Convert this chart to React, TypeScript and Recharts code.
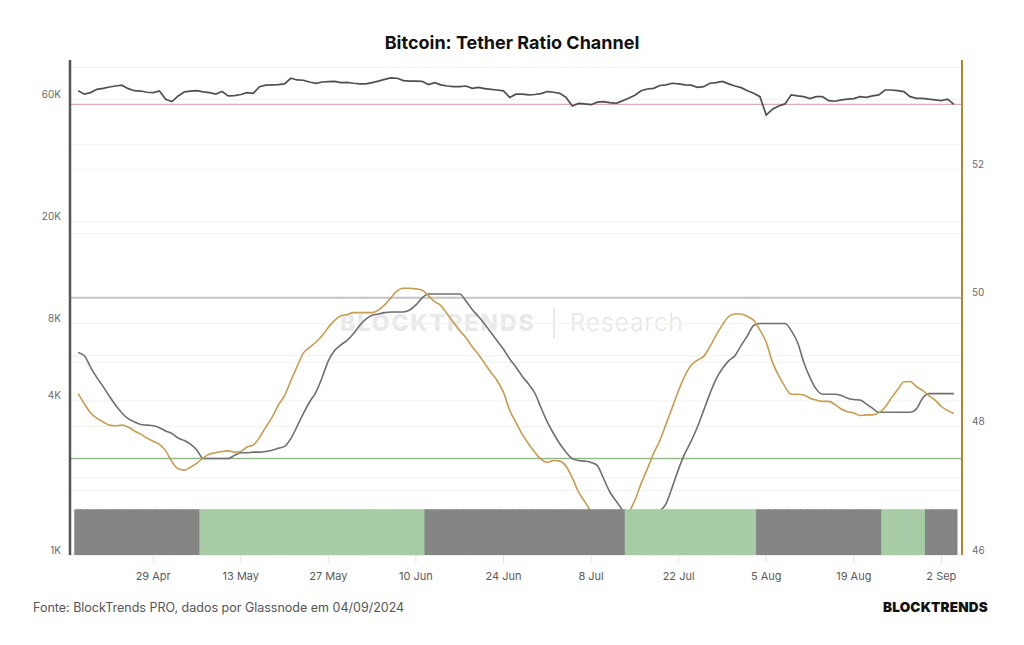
import React from 'react';
import { ComposedChart, Line, Bar, Cell, XAxis, YAxis, ReferenceLine } from 'recharts';

// ---------- categories ----------
const monthAbbr = ['Jan', 'Feb', 'Mar', 'Apr', 'May', 'Jun', 'Jul', 'Aug', 'Sep', 'Oct', 'Nov', 'Dec'];
const firstDayUTC = Date.UTC(2024, 3, 17); // 17 Apr 2024
const dayCount = 141; // 17 Apr .. 4 Sep 2024
const dates: string[] = Array.from({ length: dayCount }, (_, i) => {
  const d = new Date(firstDayUTC + i * 86400000);
  return `${d.getUTCDate()} ${monthAbbr[d.getUTCMonth()]}`;
});

const xTicks = ['29 Apr', '13 May', '27 May', '10 Jun', '24 Jun', '8 Jul', '22 Jul', '5 Aug', '19 Aug', '2 Sep'];

// ---------- BTC price (thousands USD, log axis) ----------
const priceK = [
  65.0, 63.1, 64.0, 65.9, 66.5, 67.3, 67.9, 68.4, 66.3, 65.1,
  64.9, 64.2, 64.0, 64.9, 60.3, 59.0, 62.1, 64.4, 64.8, 65.1,
  64.4, 64.0, 63.2, 64.6, 62.1, 62.3, 62.9, 64.0, 63.6, 67.5,
  68.4, 68.6, 68.8, 69.2, 72.8, 71.7, 71.5, 70.4, 69.6, 70.4,
  70.6, 70.8, 70.0, 70.2, 69.6, 69.2, 69.2, 70.0, 71.0, 72.1,
  73.0, 72.8, 71.3, 71.0, 71.0, 70.8, 68.8, 70.0, 68.6, 67.9,
  67.5, 67.5, 67.9, 66.5, 67.1, 66.3, 65.9, 65.5, 65.0, 61.3,
  63.1, 63.1, 62.7, 62.9, 63.4, 64.6, 64.2, 63.6, 61.3, 56.7,
  58.1, 57.8, 57.4, 58.7, 59.0, 58.5, 58.1, 59.4, 60.8, 62.5,
  65.1, 66.1, 66.5, 68.2, 68.6, 69.6, 69.2, 68.6, 68.4, 67.1,
  67.5, 69.6, 70.0, 70.8, 69.2, 67.9, 66.9, 65.1, 63.6, 61.7,
  52.3, 55.1, 56.7, 57.8, 62.7, 62.1, 61.7, 60.6, 61.7, 61.7,
  59.5, 59.2, 59.9, 60.3, 60.6, 61.7, 61.3, 62.1, 62.7, 65.5,
  65.5, 65.1, 64.6, 61.7, 60.8, 60.8, 60.3, 59.9, 59.5, 60.3,
  57.6,
];

// ---------- Tether ratio (gold) ----------
const ratioLine = [
  48.51, 48.35, 48.21, 48.13, 48.07, 48.02, 48.01, 48.02, 47.99, 47.93,
  47.88, 47.82, 47.77, 47.72, 47.62, 47.45, 47.34, 47.32, 47.37, 47.43,
  47.51, 47.57, 47.59, 47.61, 47.62, 47.60, 47.61, 47.68, 47.71, 47.83,
  47.99, 48.14, 48.33, 48.48, 48.71, 48.93, 49.14, 49.23, 49.31, 49.41,
  49.54, 49.65, 49.72, 49.74, 49.77, 49.77, 49.77, 49.77, 49.81, 49.89,
  50.00, 50.11, 50.15, 50.15, 50.14, 50.12, 50.03, 49.94, 49.88, 49.75,
  49.62, 49.49, 49.38, 49.24, 49.12, 48.98, 48.84, 48.71, 48.53, 48.25,
  48.06, 47.88, 47.73, 47.60, 47.49, 47.44, 47.47, 47.46, 47.38, 47.20,
  46.98, 46.83, 46.67, 46.50, 46.35, 46.25, 46.30, 46.45, 46.65, 46.85,
  47.11, 47.34, 47.58, 47.78, 48.04, 48.30, 48.56, 48.79, 48.95, 49.03,
  49.09, 49.24, 49.42, 49.58, 49.71, 49.75, 49.75, 49.71, 49.65, 49.50,
  49.31, 49.00, 48.79, 48.62, 48.50, 48.50, 48.49, 48.44, 48.41, 48.39,
  48.39, 48.34, 48.27, 48.23, 48.21, 48.17, 48.18, 48.18, 48.21, 48.30,
  48.44, 48.57, 48.69, 48.70, 48.62, 48.56, 48.48, 48.41, 48.31, 48.25,
  48.20,
];

// ---------- Channel line (gray) ----------
const channelLine = [
  49.15, 49.10, 48.92, 48.76, 48.62, 48.47, 48.33, 48.21, 48.12, 48.07,
  48.03, 48.02, 48.01, 47.98, 47.93, 47.89, 47.82, 47.78, 47.72, 47.63,
  47.50, 47.50, 47.50, 47.50, 47.50, 47.55, 47.59, 47.59, 47.60, 47.60,
  47.61, 47.63, 47.66, 47.69, 47.81, 48.00, 48.20, 48.38, 48.53, 48.76,
  49.02, 49.18, 49.27, 49.34, 49.44, 49.57, 49.67, 49.73, 49.75, 49.77,
  49.78, 49.78, 49.78, 49.81, 49.89, 50.00, 50.06, 50.06, 50.06, 50.06,
  50.06, 50.06, 49.95, 49.82, 49.71, 49.59, 49.46, 49.33, 49.20, 49.05,
  48.92, 48.78, 48.66, 48.52, 48.29, 48.07, 47.89, 47.73, 47.60, 47.50,
  47.47, 47.46, 47.44, 47.39, 47.19, 46.98, 46.84, 46.70, 46.50, 46.40,
  46.35, 46.40, 46.55, 46.68, 46.80, 47.06, 47.34, 47.58, 47.77, 47.99,
  48.25, 48.51, 48.74, 48.90, 49.02, 49.10, 49.26, 49.41, 49.57, 49.60,
  49.60, 49.60, 49.60, 49.60, 49.49, 49.31, 49.00, 48.76, 48.58, 48.50,
  48.50, 48.50, 48.48, 48.44, 48.42, 48.41, 48.35, 48.28, 48.22, 48.22,
  48.22, 48.22, 48.22, 48.22, 48.27, 48.44, 48.51, 48.51, 48.51, 48.51,
  48.51,
];

// ---------- regime runs (state, number of days) ----------
const regimeRuns: [string, number][] = [
  ['off', 20], ['on', 36], ['off', 32], ['on', 21], ['off', 20], ['on', 7], ['off', 5],
];

// ---------- axes / levels ----------
const priceTicks = [1, 4, 8, 20, 60];
const priceGrid = [2, 4, 6, 8, 20, 40, 60, 80];
const ratioTicks = [46, 48, 50, 52];
const ratioGrid = [47, 48, 49, 51, 52];
const upperLevel = 50;
const lowerLevel = 47.5;

const colors = {
  price: '#505050',
  ratio: '#c79d4f',
  channel: '#6f6f6f',
  on: '#a6cba5',
  off: '#858585',
  upper: '#c4c4c4',
  lower: '#93b98c',
  current: '#e4a9b9',
  grid: '#f2f2f2',
};

const regimes: string[] = regimeRuns.flatMap(([s, n]) => Array.from({ length: n }, () => s));

const rows = dates.map((d, i) => ({
  date: d,
  price: priceK[i],
  ratio: ratioLine[i],
  channel: channelLine[i],
  band: 1,
}));

const YTick = (props: any) => {
  const { x, y, payload, textAnchor, suffix } = props;
  return (
    <text x={x} y={y} dy={-5.5} textAnchor={textAnchor} dominantBaseline="central" fontSize={10} fill="#6a6a6a" fontFamily="Inter, sans-serif">
      {`${payload.value}${suffix || ''}`}
    </text>
  );
};

const XTick = (props: any) => {
  const { x, y, payload } = props;
  return (
    <text x={x} y={y} dy={16.7} textAnchor="middle" fontSize={11} fill="#5a5a5a" fontFamily="Inter, sans-serif">
      {payload.value}
    </text>
  );
};

export default function App() {
  const lastPrice = priceK[priceK.length - 1];
  return (
    <div style={{ position: 'absolute', left: 0, top: 0, width: 1024, height: 645, background: '#fff', overflow: 'hidden', fontFamily: 'Inter, "Noto Sans", sans-serif' }}>
      <div style={{ position: 'absolute', left: 0, top: 32, width: 1024, textAlign: 'center', fontSize: 18, lineHeight: '22px', fontWeight: 700, color: '#111' }}>
        Bitcoin: Tether Ratio Channel
      </div>
      {/* watermark */}
      <div style={{ position: 'absolute', left: 340, top: 309, fontSize: 23, lineHeight: '28px', fontWeight: 800, color: '#e9e9e9', letterSpacing: 2 }}>BLOCKTRENDS</div>
      <div style={{ position: 'absolute', left: 553, top: 307, width: 1.5, height: 31, background: '#e9e9e9' }} />
      <div style={{ position: 'absolute', left: 570, top: 309, fontSize: 24, lineHeight: '28px', fontWeight: 300, color: '#e6e6e6', letterSpacing: 1.2 }}>Research</div>
      <div style={{ position: 'absolute', left: 0, top: 0 }}>
        <ComposedChart width={1024} height={645} data={rows} margin={{ top: 60, right: 0, bottom: 0, left: 0 }} barCategoryGap={0} barGap={0}>
          <XAxis
            dataKey="date"
            ticks={xTicks}
            interval={0}
            padding={{ left: 5, right: 5 }}
            height={90}
            tickSize={8}
            tickMargin={0}
            tickLine={{ stroke: '#e4e4e4' }}
            axisLine={{ stroke: '#e4e4e4' }}
            tick={(p: any) => <XTick {...p} />}
          />
          <YAxis yAxisId="band" hide width={0} orientation="left" type="number" domain={[0, 11]} allowDataOverflow />
          <YAxis
            yAxisId="price"
            orientation="left"
            type="number"
            scale="log"
            domain={[1, 85.8]}
            allowDataOverflow
            ticks={priceTicks}
            interval={0}
            width={70}
            axisLine={{ stroke: '#555', strokeWidth: 2.5 }}
            tickLine={false}
            tickSize={0}
            tickMargin={9}
            tick={(p: any) => <YTick {...p} suffix="K" />}
          />
          <YAxis
            yAxisId="ratio"
            orientation="right"
            type="number"
            domain={[46, 53.7]}
            allowDataOverflow
            ticks={ratioTicks}
            interval={0}
            width={62}
            axisLine={{ stroke: '#b5862e', strokeWidth: 2 }}
            tickLine={false}
            tickSize={0}
            tickMargin={10}
            tick={(p: any) => <YTick {...p} />}
          />

          {priceGrid.map((v) => (
            <ReferenceLine key={`pg${v}`} yAxisId="price" y={v} stroke={colors.grid} strokeWidth={1} />
          ))}
          {ratioGrid.map((v) => (
            <ReferenceLine key={`rg${v}`} yAxisId="ratio" y={v} stroke={colors.grid} strokeWidth={1} />
          ))}
          <ReferenceLine yAxisId="ratio" y={upperLevel} stroke={colors.upper} strokeWidth={2} />
          <ReferenceLine yAxisId="ratio" y={lowerLevel} stroke={colors.lower} strokeWidth={1.5} />
          <ReferenceLine yAxisId="price" y={lastPrice} stroke={colors.current} strokeWidth={1.3} />

          <Line yAxisId="price" dataKey="price" type="linear" stroke={colors.price} strokeWidth={1.7} dot={false} activeDot={false} isAnimationActive={false} />
          <Line yAxisId="ratio" dataKey="channel" type="monotone" stroke={colors.channel} strokeWidth={1.6} dot={false} activeDot={false} isAnimationActive={false} />
          <Line yAxisId="ratio" dataKey="ratio" type="monotone" stroke={colors.ratio} strokeWidth={1.6} dot={false} activeDot={false} isAnimationActive={false} />

          <Bar yAxisId="band" dataKey="band" isAnimationActive={false} zIndex={600}>
            {rows.map((r, i) => {
              const c = regimes[i] === 'on' ? colors.on : colors.off;
              return <Cell key={r.date} fill={c} stroke={c} strokeWidth={1.5} />;
            })}
          </Bar>
        </ComposedChart>
      </div>
      <div style={{ position: 'absolute', left: 33, top: 600, fontSize: 12.5, lineHeight: '16px', color: '#555' }}>
        Fonte: BlockTrends PRO, dados por Glassnode em 04/09/2024
      </div>
      <div style={{ position: 'absolute', right: 36, top: 599, fontSize: 13.5, lineHeight: '16px', fontWeight: 900, color: '#111', letterSpacing: 0.2 }}>
        BLOCKTRENDS
      </div>
    </div>
  );
}
